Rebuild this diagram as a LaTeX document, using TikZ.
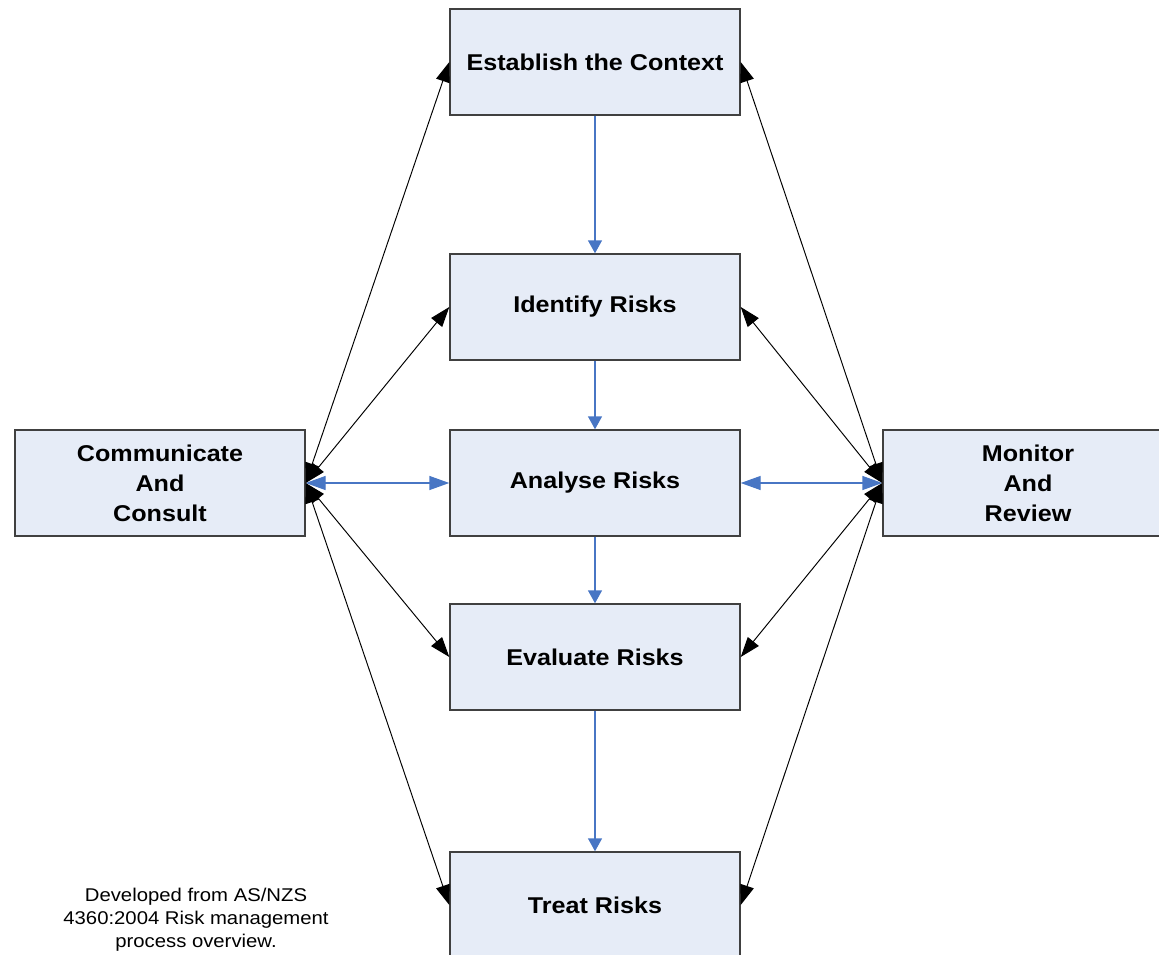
\documentclass[tikz,border=0pt]{standalone}
\usepackage{fontspec}
\setmainfont[FakeStretch=1.1]{Liberation Sans}
\usetikzlibrary{arrows.meta}
\definecolor{boxfill}{RGB}{230,236,247}
\definecolor{boxline}{RGB}{64,64,64}
\definecolor{flowblue}{RGB}{72,118,196}

\begin{document}
\begin{tikzpicture}[box/.style={rectangle,draw=boxline,fill=boxfill,line width=0.8pt,minimum width=5.8cm,minimum height=2.12cm,align=center,font=\fontsize{13}{17}\selectfont\bfseries},
    link/.style={{Triangle[length=0.4cm,width=0.28cm]}-{Triangle[length=0.4cm,width=0.28cm]},black,line width=0.55pt},
    side/.style={{Triangle[length=0.4cm,width=0.28cm]}-{Triangle[length=0.4cm,width=0.28cm]},flowblue,line width=0.8pt},
    flow/.style={-{Triangle[length=0.26cm,width=0.28cm]},flowblue,line width=0.8pt}]
        \useasboundingbox (0,0) rectangle (23.18,-19.08);
        \node[box] (est) at (11.9,-1.24) {Establish the Context};
        \node[box] (ide) at (11.9,-6.14) {Identify Risks};
        \node[box] (ana) at (11.9,-9.66) {Analyse Risks};
        \node[box] (eva) at (11.9,-13.14) {Evaluate Risks};
        \node[box] (tre) at (11.9,-18.1) {Treat Risks};
        \node[box] (com) at (3.2,-9.66) {Communicate\\And\\Consult};
        \node[box] (mon) at (20.56,-9.66) {Monitor\\And\\Review};
        \node[align=center,font=\fontsize{10.5}{13}\selectfont] (note) at (3.92,-18.4) {Developed from AS/NZS\\4360:2004 Risk management\\process overview.};
        \draw [flow] (est) -- (ide);
        \draw [flow] (ide) -- (ana);
        \draw [flow] (ana) -- (eva);
        \draw [flow] (eva) -- (tre);
        \draw [side] (com) -- (ana);
        \draw [side] (ana) -- (mon);
        \foreach \t in {est,ide,eva,tre} {
            \draw [link] (com.east) -- (\t.west);
            \draw [link] (mon.west) -- (\t.east);
        }
    \end{tikzpicture}
\end{document}
